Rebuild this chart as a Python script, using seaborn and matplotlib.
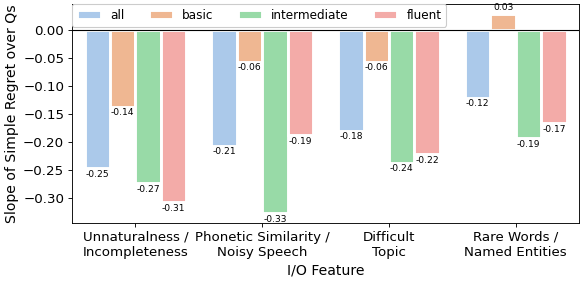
import pandas as pd
import numpy as np
import seaborn as sns
import matplotlib.pyplot as plt

# Grouped bar chart: slope of simple regret per I/O feature, split by proficiency level.

features = ["Unnaturalness /\nIncompleteness", "Phonetic Similarity /\nNoisy Speech",
            "Difficult\nTopic", "Rare Words /\nNamed Entities"]
levels = ["all", "basic", "intermediate", "fluent"]

slope_all = [-0.246, -0.206, -0.179, -0.120]
slope_basic = [-0.136, -0.056, -0.056, 0.029]
slope_intermediate = [-0.273, -0.326, -0.236, -0.193]
slope_fluent = [-0.307, -0.187, -0.221, -0.166]

yticks = [0.00, -0.05, -0.10, -0.15, -0.20, -0.25, -0.30]

df = pd.DataFrame({
    "feature": features * 4,
    "level": np.repeat(levels, len(features)),
    "slope": slope_all + slope_basic + slope_intermediate + slope_fluent,
})

fig = plt.figure(figsize=(7.25, 3.525), dpi=80)
ax = fig.add_axes([0.1241, 0.2092, 0.8745, 0.7766])

sns.barplot(data=df, x="feature", y="slope", hue="level", order=features,
            hue_order=levels, palette="pastel", edgecolor="white", linewidth=2.6,
            errorbar=None, ax=ax)

for cont in ax.containers:
    ax.bar_label(cont, fmt="%.2f", padding=1.5, fontsize=8.2)

ax.axhline(0, color="black", linewidth=1)
ax.set_ylim(-0.344, 0.047)
ax.set_xlim(-0.5, 3.5)
ax.set_yticks(yticks)
ax.tick_params(axis="both", labelsize=12)
ax.set_xlabel("I/O Feature", fontsize=12.6)
ax.set_ylabel("Slope of Simple Regret over Qs", fontsize=12.6)

ax.legend(loc="upper left", ncol=4, fontsize=10.8, borderaxespad=0.0,
          framealpha=1.0)

fig.savefig("out.png", dpi=80)
